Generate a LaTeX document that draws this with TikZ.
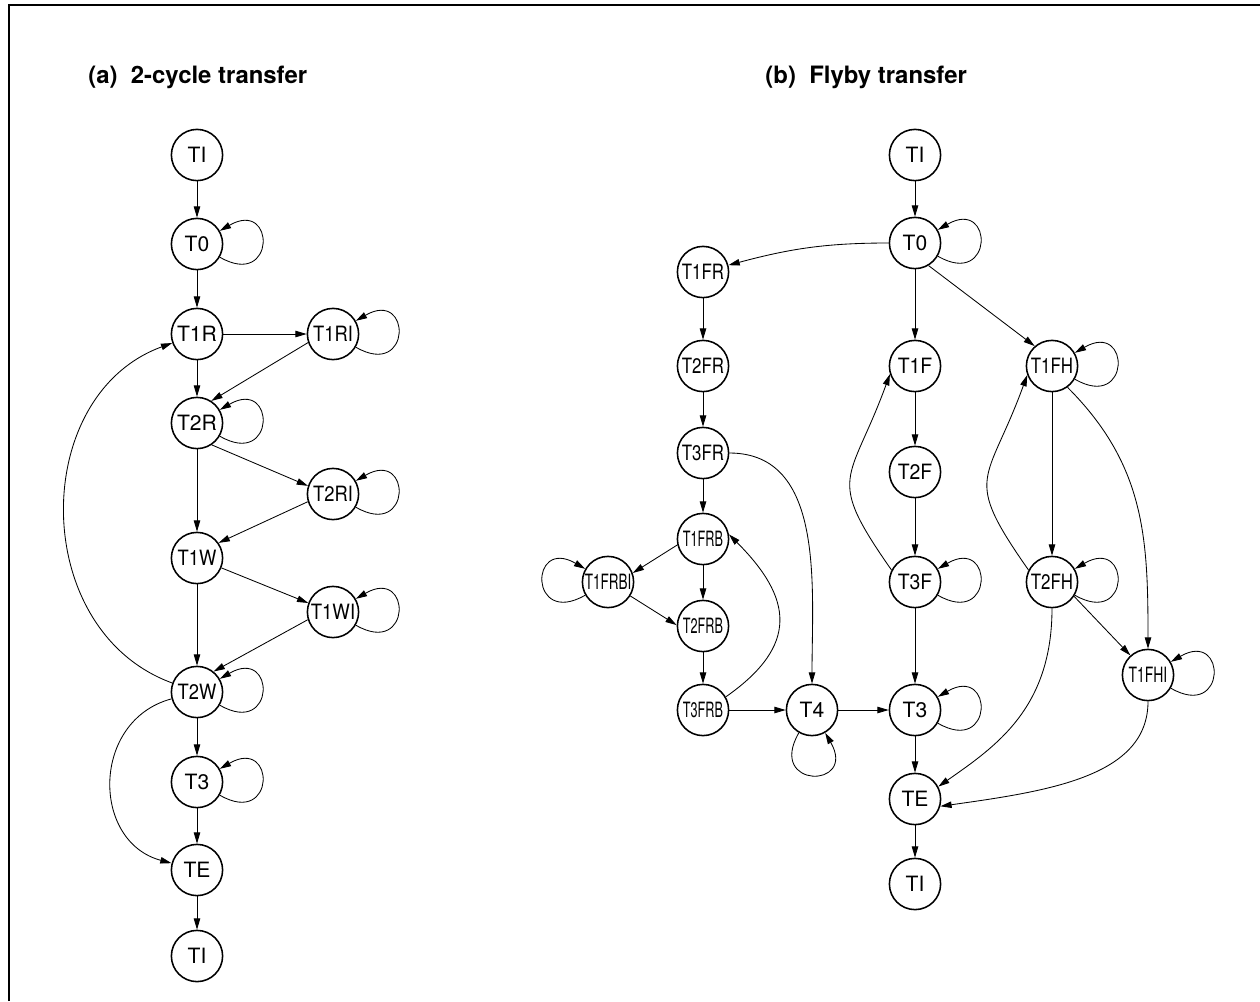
\documentclass[tikz,border=0pt]{standalone}
\usepackage{fontspec}
\setmainfont{TeX Gyre Heros}
\usepackage{graphicx}
\usepackage{tikz}
\usetikzlibrary{arrows.meta}
\newcommand{\angosto}[2]{\scalebox{#1}[1]{#2}}
\tikzset{
  estado/.style={circle,draw,line width=1.1pt,minimum size=1.28cm,inner sep=0pt,font=\fontsize{15}{17}\selectfont},
  titulo/.style={anchor=west,inner sep=0pt,font=\fontsize{17}{20}\selectfont\bfseries},
  marco/.style={line width=1.5pt},
  lazo/.style={->,out=-30,in=30,min distance=1.62cm},
  lazoizq/.style={->,out=210,in=150,min distance=1.62cm},
  lazoabj/.style={->,out=-120,in=-60,min distance=1.62cm}
}

\begin{document}
\begin{tikzpicture}[x=0.025cm,y=0.025cm,line width=0.6pt,>={Triangle[length=8pt,width=4.6pt]}]
\useasboundingbox (0,0) rectangle (1260,-1001);
\draw[marco] (9,-1001) -- (9,-5) -- (1260,-5);
\node[titulo] (ta) at (88,-77) {(a)\ \ 2-cycle transfer};
\node[titulo] (tb) at (765,-77) {(b)\ \ Flyby transfer};
% (a) 2-cycle
\node[estado] (aTI) at (197,-155) {TI};
\node[estado] (aT0) at (197,-244) {T0};
\node[estado] (aT1R) at (197,-334) {T1R};
\node[estado] (aT1RI) at (333,-334) {\angosto{0.87}{T1RI}};
\node[estado] (aT2R) at (197,-423) {T2R};
\node[estado] (aT2RI) at (333,-494) {\angosto{0.87}{T2RI}};
\node[estado] (aT1W) at (197,-558) {\angosto{0.87}{T1W}};
\node[estado] (aT1WI) at (333,-612) {\angosto{0.88}{T1WI}};
\node[estado] (aT2W) at (197,-692) {\angosto{0.87}{T2W}};
\node[estado] (aT3) at (197,-782) {T3};
\node[estado] (aTE) at (197,-870) {TE};
\node[estado] (aTIb) at (197,-956) {TI};
\draw[->] (aTI) -- (aT0);
\draw[->] (aT0) -- (aT1R);
\draw[->] (aT1R) -- (aT1RI);
\draw[->] (aT1R) -- (aT2R);
\draw[->] (aT1RI.199) -- (aT2R.57);
\draw[->] (aT2R.-56) -- (aT2RI.162);
\draw[->] (aT2RI.197) -- (aT1W.35);
\draw[->] (aT2R) -- (aT1W);
\draw[->] (aT1W.-22) -- (aT1WI.160);
\draw[->] (aT1WI.197) -- (aT2W.51);
\draw[->] (aT1W) -- (aT2W);
\draw[->] (aT2W) to[out=160,in=200,looseness=1.15] (aT1R);
\draw[->] (aT2W) -- (aT3);
\draw[->] (aT2W) to[out=195,in=165,looseness=1.3] (aTE);
\draw[->] (aT3) -- (aTE);
\draw[->] (aTE) -- (aTIb);
\draw (aT0) edge[lazo] (aT0) (aT1RI) edge[lazo] (aT1RI) (aT2R) edge[lazo] (aT2R)
  (aT2RI) edge[lazo] (aT2RI) (aT1WI) edge[lazo] (aT1WI) (aT2W) edge[lazo] (aT2W)
  (aT3) edge[lazo] (aT3);
% (b) flyby
\node[estado] (bTI) at (915,-155) {TI};
\node[estado] (bT0) at (915,-243) {T0};
\node[estado] (bT1FR) at (703,-272) {\angosto{0.8}{T1FR}};
\node[estado] (bT2FR) at (703,-366) {\angosto{0.8}{T2FR}};
\node[estado] (bT3FR) at (703,-453) {\angosto{0.8}{T3FR}};
\node[estado] (bT1FRB) at (703,-539) {\angosto{0.6}{T1FRB}};
\node[estado] (bT1FRBI) at (608,-582) {\angosto{0.64}{T1FRBI}};
\node[estado] (bT2FRB) at (703,-626) {\angosto{0.6}{T2FRB}};
\node[estado] (bT3FRB) at (703,-710) {\angosto{0.6}{T3FRB}};
\node[estado] (bT4) at (812,-710) {T4};
\node[estado] (bT1F) at (915,-366) {\angosto{0.92}{T1F}};
\node[estado] (bT2F) at (915,-472) {\angosto{0.92}{T2F}};
\node[estado] (bT3F) at (915,-582) {\angosto{0.92}{T3F}};
\node[estado] (bT3) at (915,-710) {T3};
\node[estado] (bTE) at (915,-799) {TE};
\node[estado] (bTIb) at (915,-884) {TI};
\node[estado] (bT1FH) at (1052,-366) {\angosto{0.8}{T1FH}};
\node[estado] (bT2FH) at (1052,-582) {\angosto{0.8}{T2FH}};
\node[estado] (bT1FHI) at (1148,-675) {\angosto{0.66}{T1FHI}};
\draw[->] (bTI) -- (bT0);
\draw[->] (bT0) to[out=180,in=15] (bT1FR);
\draw[->] (bT0) -- (bT1F);
\draw[->] (bT0.-59) -- (bT1FH.131);
\draw[->] (bT1FR) -- (bT2FR);
\draw[->] (bT2FR) -- (bT3FR);
\draw[->] (bT3FR) -- (bT1FRB);
\draw[->] (bT3FR) to[out=0,in=90] (bT4);
\draw[->] (bT1FRB.193) -- (bT1FRBI.20);
\draw[->] (bT1FRB) -- (bT2FRB);
\draw[->] (bT1FRBI.-32) -- (bT2FRB.178);
\draw[->] (bT2FRB) -- (bT3FRB);
\draw[->] (bT3FRB.30) .. controls +(35:90) and +(-45:90) .. (bT1FRB.10);
\draw[->] (bT3FRB) -- (bT4);
\draw[->] (bT4) -- (bT3);
\draw[->] (bT1F) -- (bT2F);
\draw[->] (bT2F) -- (bT3F);
\draw[->] (bT3F) -- (bT3);
\draw[->] (bT3F.153) .. controls +(125:117) and +(-110:117) .. (bT1F.198);
\draw[->] (bT3) -- (bTE);
\draw[->] (bTE) -- (bTIb);
\draw[->] (bT1FH) -- (bT2FH);
\draw[->] (bT2FH.153) .. controls +(125:117) and +(-110:117) .. (bT1FH.200);
\draw[->] (bT1FH.-54) .. controls +(-45:110) and +(90:110) .. (bT1FHI.90);
\draw[->] (bT2FH.-33) -- (bT1FHI.132);
\draw[->] (bT2FH.-90) .. controls +(-90:100) and +(35:70) .. (bTE.28);
\draw[->] (bT1FHI.-90) .. controls +(-90:75) and +(8:110) .. (bTE.-16);
\draw (bT0) edge[lazo] (bT0) (bT1FH) edge[lazo] (bT1FH) (bT2FH) edge[lazo] (bT2FH)
  (bT1FHI) edge[lazo] (bT1FHI) (bT3F) edge[lazo] (bT3F) (bT3) edge[lazo] (bT3)
  (bT4) edge[lazoabj] (bT4) (bT1FRBI) edge[lazoizq] (bT1FRBI);
\end{tikzpicture}
\end{document}
